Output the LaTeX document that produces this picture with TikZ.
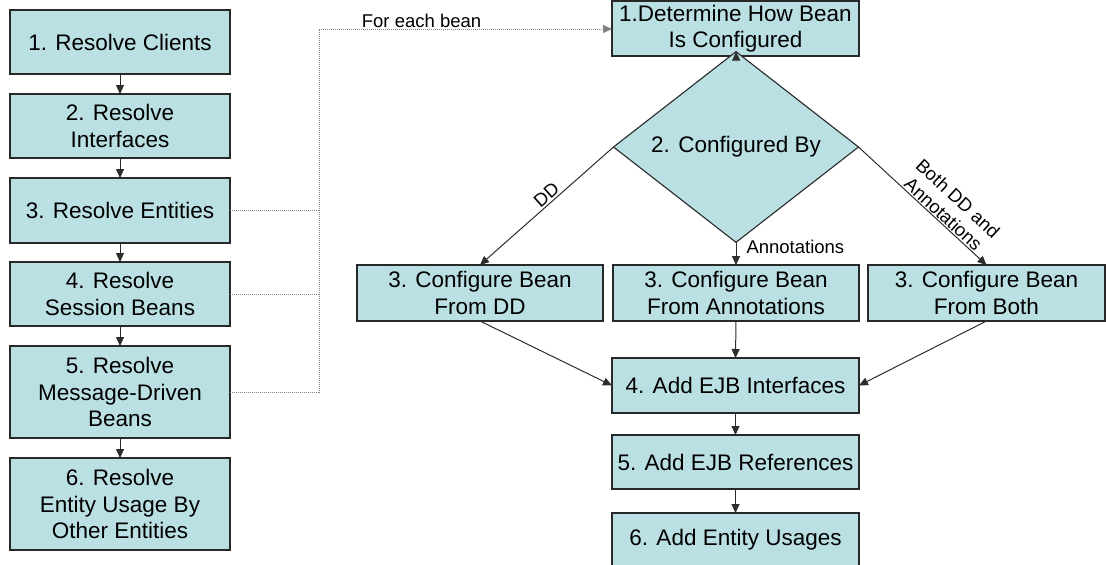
\documentclass[tikz,border=0pt]{standalone}
\usepackage{fontspec}
\setmainfont{Liberation Sans}
\usetikzlibrary{arrows.meta,shapes.geometric}
\definecolor{boxfill}{RGB}{187,224,227}
\definecolor{boxline}{RGB}{40,40,40}
\definecolor{conn}{RGB}{45,45,45}
\definecolor{dotc}{RGB}{130,130,130}
\tikzset{
  stepbox/.style={draw=boxline, fill=boxfill, line width=1.1pt, inner sep=0pt, outer sep=0pt, align=center,
    font=\fontsize{22.5}{26.5}\selectfont},
  decide/.style={stepbox, shape=diamond, minimum width=245pt, minimum height=126pt},
  flow/.style={draw=conn, line width=1pt, -{Triangle[length=9pt,width=8pt]}},
  dotline/.style={draw=dotc, line width=1pt, densely dotted},
  lbl/.style={font=\fontsize{18.5}{21.5}\selectfont, inner sep=2pt, align=center},
}
\begin{document}
\begin{tikzpicture}[x=1pt, y=-1pt]
\useasboundingbox (0,0) rectangle (1106,565);
% left column
\node[stepbox, minimum width=220pt, minimum height=64pt] (L1) at (120,42) {1. Resolve Clients};
\node[stepbox, minimum width=220pt, minimum height=64pt] (L2) at (120,126) {2. Resolve\\Interfaces};
\node[stepbox, minimum width=220pt, minimum height=65pt] (L3) at (120,210.5) {3. Resolve Entities};
\node[stepbox, minimum width=220pt, minimum height=64pt] (L4) at (120,294) {4. Resolve\\Session Beans};
\node[stepbox, minimum width=220pt, minimum height=92pt] (L5) at (120,392) {5. Resolve\\Message-Driven\\Beans};
\node[stepbox, minimum width=220pt, minimum height=92pt] (L6) at (120,504) {6. Resolve\\Entity Usage By\\Other Entities};
\draw[flow] (L1) -- (L2);
\draw[flow] (L2) -- (L3);
\draw[flow] (L3) -- (L4);
\draw[flow] (L4) -- (L5);
\draw[flow] (L5) -- (L6);
% right column
\node[stepbox, minimum width=247pt, minimum height=55pt] (R1) at (735.5,28.5) {1.Determine How Bean\\Is Configured};
\node[decide] (D) at (736,147) {2. Configured By};
\node[stepbox, minimum width=246pt, minimum height=56pt] (C1) at (480,293) {3. Configure Bean\\From DD};
\node[stepbox, minimum width=246pt, minimum height=56pt] (C2) at (736,293) {3. Configure Bean\\From Annotations};
\node[stepbox, minimum width=237pt, minimum height=56pt] (C3) at (986.5,293) {3. Configure Bean\\From Both};
\node[stepbox, minimum width=247pt, minimum height=55pt] (B4) at (735.5,385.5) {4. Add EJB Interfaces};
\node[stepbox, minimum width=247pt, minimum height=54pt] (B5) at (735.5,462) {5. Add EJB References};
\node[stepbox, minimum width=247pt, minimum height=54pt] (B6) at (735.5,540) {6. Add Entity Usages};
% dotted links
\coordinate (J) at (319,29);
\draw[dotline] (L3.east) -- (L3.east -| J);
\draw[dotline] (L4.east) -- (L4.east -| J);
\draw[dotline] (L5.east) -| (J);
\draw[dotline, -{Triangle[length=9pt,width=8pt]}] (J) -- node[lbl, pos=0.35, anchor=south, inner sep=1pt] {For each bean} (J -| R1.west);
% flow right
\draw[flow] (R1) -- (D.north);
\draw[flow] (D.west) -- (C1.north);
\path (C1.north) -- node[lbl, sloped, above, pos=0.54] {DD} (D.west);
\draw[flow] (D.south) -- node[lbl, anchor=west, pos=0.2, xshift=8pt] {Annotations} (C2.north);
\draw[flow] (D.east) -- node[lbl, sloped, above, pos=0.62, inner sep=1pt] {Both DD and\\Annotations} (C3.north);
\draw[flow] (C1.south) -- (B4.west);
\draw[flow] (C2.south) -- (B4.north);
\draw[flow] (C3.south) -- (B4.east);
\draw[flow] (B4) -- (B5);
\draw[flow] (B5) -- (B6);
\end{tikzpicture}
\end{document}
